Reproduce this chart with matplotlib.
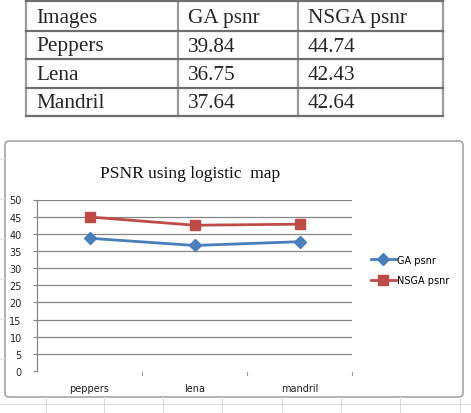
import matplotlib
matplotlib.use("Agg")
from matplotlib import pyplot as plt
from matplotlib.patches import FancyBboxPatch

# Tabelle oben
tabellen_kopf = ["Images", "GA psnr", "NSGA psnr"]
bilder = ["Peppers", "Lena", "Mandril"]
ga_tabelle = ["39.84", "36.75", "37.64"]
nsga_tabelle = ["44.74", "42.43", "42.64"]

# Diagramm
kategorien = ["peppers", "lena", "mandril"]
ga_psnr = [38.7, 36.6, 37.7]
nsga_psnr = [44.9, 42.5, 42.8]
y_ticks = [0, 5, 10, 15, 20, 25, 30, 35, 40, 45, 50]

B, H = 471, 414
fig = plt.figure(figsize=(B / 100, H / 100), dpi=100)
fig.patch.set_facecolor("white")

# Hintergrund-Achse in Pixelkoordinaten
bg = fig.add_axes([0, 0, 1, 1])
bg.set_xlim(0, B)
bg.set_ylim(H, 0)
bg.axis("off")

# Tabelle zeichnen
spalten_x = [26, 178, 298, 443]
zeilen_y = [2, 32, 60, 89, 117]
for x in spalten_x:
    bg.plot([x, x], [zeilen_y[0], zeilen_y[-1]], color="#9a9a9a", lw=1.6)
for y in zeilen_y:
    bg.plot([spalten_x[0], spalten_x[-1]], [y, y], color="#6e6e6e", lw=1.6)

zeilen = [tabellen_kopf] + [[b, g, n] for b, g, n in zip(bilder, ga_tabelle, nsga_tabelle)]
for i, zeile in enumerate(zeilen):
    ym = (zeilen_y[i] + zeilen_y[i + 1]) / 2 + 1
    for j, txt in enumerate(zeile):
        bg.text(spalten_x[j] + 10, ym, txt, fontsize=15.3, family="Liberation Serif",
                color="#262626", va="center", ha="left")

# Excel-Rahmen und Tabellenraster drumherum
for x in [46, 104, 163, 222, 282, 341, 400, 460]:
    bg.plot([x, x], [398, H], color="#dcdcdc", lw=0.8)
bg.plot([0, B], [405, 405], color="#dcdcdc", lw=0.8)
for y in [160, 200, 240, 280, 320, 360]:
    bg.plot([0, 4], [y, y], color="#dcdcdc", lw=0.8)
rahmen = FancyBboxPatch((5, 142), 458, 256, boxstyle="round,pad=0,rounding_size=4",
                        facecolor="white", edgecolor="#a6a6a6", lw=1.2)
bg.add_patch(rahmen)

bg.text(190, 174, "PSNR using logistic  map", fontsize=12.5, family="Liberation Serif",
        ha="center", va="center", color="#111111")

# Diagramm-Achse
ax = fig.add_axes([37 / B, 1 - 372 / H, (352 - 37) / B, (372 - 200.5) / H])
ax.set_facecolor("none")
pos = [i + 0.5 for i in range(len(kategorien))]
ax.plot(pos, ga_psnr, color="#4a7ebb", lw=2, marker="D", markersize=6,
        label="GA psnr", zorder=3)
ax.plot(pos, nsga_psnr, color="#be4b48", lw=2, marker="s", markersize=6.5,
        label="NSGA psnr", zorder=3)

ax.set_xlim(0, len(kategorien))
ax.set_ylim(0, 50)
ax.set_yticks(y_ticks)
ax.set_yticklabels([str(v) for v in y_ticks], fontsize=7, color="#222222")
ax.tick_params(axis="y", length=3, width=0.8, color="#868686", pad=8)
for v in y_ticks[1:]:
    ax.axhline(v, color="#868686", lw=0.9, zorder=1)

ax.set_xticks(pos)
ax.set_xticklabels(kategorien, fontsize=7, color="#222222")
ax.tick_params(axis="x", length=0, pad=9)
for x in range(1, len(kategorien) + 1):
    ax.plot([x, x], [-0.3, -1.3], color="#9a9a9a", lw=0.8, clip_on=False)

for s in ["top", "right", "bottom"]:
    ax.spines[s].set_visible(False)
ax.spines["left"].set_color("#868686")
ax.spines["left"].set_linewidth(0.9)

ax.legend(loc="center left", bbox_to_anchor=(362 / B, 1 - 271 / H),
          bbox_transform=fig.transFigure, frameon=False, fontsize=7,
          handlelength=2.6, handletextpad=0.1, labelspacing=1.05)

fig.savefig("out.png", dpi=100)
